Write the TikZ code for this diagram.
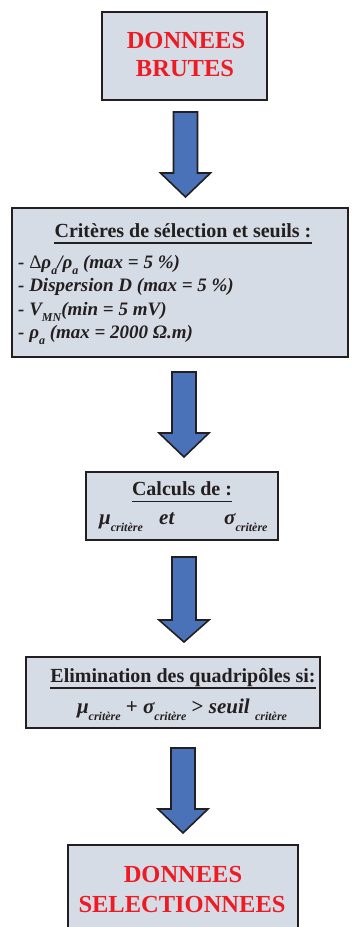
\documentclass[tikz,border=0pt]{standalone}
\usepackage{fontspec}
\setmainfont{Liberation Serif}
\definecolor{boxfill}{HTML}{D6DCE5}
\definecolor{boxline}{HTML}{231F20}
\definecolor{redtxt}{HTML}{ED1C24}
\definecolor{arrowblue}{HTML}{4A72B8}
\newcommand{\mysub}[1]{\raisebox{-0.34em}{\fontsize{12}{12}\selectfont\bfseries\itshape #1}}
\newcommand{\blockarrow}[4]{% cx, top, headstart, tip
  \draw[arrowshape] (#1-12,#2) -- (#1+12,#2) -- (#1+12,#3) -- (#1+25,#3) -- (#1,#4) -- (#1-25,#3) -- (#1-12,#3) -- cycle;}
\tikzset{
  box/.style={draw=boxline, fill=boxfill, line width=1.8pt, inner sep=0pt},
  arrowshape/.style={draw=boxline, fill=arrowblue, line width=1.6pt, line join=miter},
  redtitle/.style={inner sep=0pt, anchor=base, text=redtxt, font=\fontsize{24.5}{28}\selectfont\bfseries},
  headtxt/.style={inner sep=0pt, anchor=base, text=boxline, font=\fontsize{20}{24}\selectfont\bfseries},
  itemtxt/.style={inner sep=0pt, anchor=base west, text=boxline, font=\fontsize{19}{22}\selectfont\bfseries\itshape},
  formtxt/.style={inner sep=0pt, anchor=base west, text=boxline, font=\fontsize{21}{24}\selectfont\bfseries\itshape},
  uline/.style={draw=boxline, line width=1.3pt}
}
\begin{document}
\begin{tikzpicture}[x=1pt,y=-1pt]
\useasboundingbox (0,0) rectangle (351,927);
% boxes
\node[box, minimum width=165pt, minimum height=88pt] (b1) at (184.5,56) {};
\node[box, minimum width=336pt, minimum height=149pt] (b2) at (180,282.5) {};
\node[box, minimum width=192pt, minimum height=68pt] (b3) at (182,506) {};
\node[box, minimum width=294pt, minimum height=71pt] (b4) at (173,692.5) {};
\node[box, minimum width=230pt, minimum height=100pt] (b5) at (183,895) {};
% arrows
\blockarrow{185.5}{112}{173}{197}
\blockarrow{184}{372}{433}{457}
\blockarrow{184}{557}{620}{642}
\blockarrow{183}{748}{809}{833}
% box 1
\node[redtitle] (t1a) at (186,48) {DONNEES};
\node[redtitle] (t1b) at (185,76) {BRUTES};
% box 2
\node[headtxt] (t2) at (183,237) {Critères de sélection et seuils :};
\draw[uline] ([yshift=-6pt]t2.base west) -- ([yshift=-6pt]t2.base east);
\node[itemtxt] (l1) at (18,268) {- {\upshape\mdseries Δ}ρ\mysub{a}/ρ\mysub{a} (max = 5 \%)};
\node[itemtxt] (l2) at (18,291.5) {- Dispersion D (max = 5 \%)};
\node[itemtxt] (l3) at (18,315) {- V\mysub{MN}(min = 5 mV)};
\node[itemtxt] (l4) at (18,338.5) {- ρ\mysub{a} (max = 2000 Ω.m)};
% box 3
\node[headtxt] (t3) at (182,495) {Calculs de :};
\draw[uline] ([yshift=-6.5pt]t3.base west) -- ([yshift=-6.5pt]t3.base east);
\node[formtxt] (mu3) at (99,524) {μ\mysub{critère}};
\node[formtxt] (et3) at (159,524) {et};
\node[formtxt] (sg3) at (224,524) {σ\mysub{critère}};
% box 4
\node[headtxt] (t4) at (183,682) {Elimination des quadripôles si:};
\draw[uline] ([yshift=-6pt]t4.base west) -- ([yshift=-6pt]t4.base east);
\node[formtxt, anchor=base] (f4) at (182,713) {μ\mysub{critère} {\upshape +} σ\mysub{critère} {\upshape >} seuil \mysub{critère}};
% box 5
\node[redtitle] (t5a) at (183,882) {DONNEES};
\node[redtitle] (t5b) at (182,912) {SELECTIONNEES};
\end{tikzpicture}
\end{document}
